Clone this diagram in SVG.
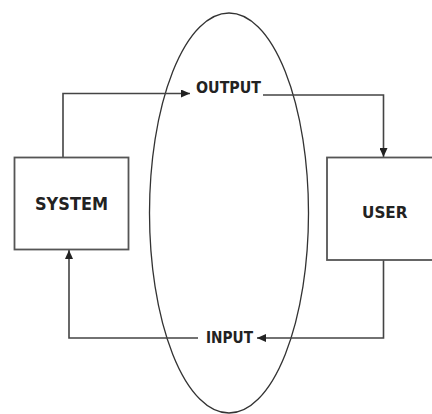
<svg xmlns="http://www.w3.org/2000/svg" width="432" height="414" viewBox="0 0 432 414">
  <style>
    .box { fill: #ffffff; stroke: #555555; stroke-width: 1.8; }
    .ring { fill: none; stroke: #333333; stroke-width: 1.3; }
    .flow { fill: none; stroke: #444444; stroke-width: 1.6; }
    .label { font-family: "DejaVu Sans", Verdana, sans-serif; font-weight: bold; fill: #222222; }
  </style>
  <defs>
    <marker id="arrow" markerUnits="userSpaceOnUse" markerWidth="10" markerHeight="8" refX="9" refY="4" orient="auto">
      <path d="M0,0 L9,4 L0,8 Z" fill="#222222"/>
    </marker>
  </defs>

  <rect width="432" height="414" fill="#ffffff"/>

  <!-- boundary between system and user -->
  <ellipse class="ring" cx="229" cy="213" rx="79.5" ry="200"/>

  <!-- connectors -->
  <g id="connectors">
    <polyline class="flow" points="63,157 63,93.5 190,93.5" marker-end="url(#arrow)"/>
    <polyline class="flow" points="263,95 383.5,95 383.5,157" marker-end="url(#arrow)"/>
    <polyline class="flow" points="383.5,260 383.5,338 257,338" marker-end="url(#arrow)"/>
    <polyline class="flow" points="198,338 69,338 69,250" marker-end="url(#arrow)"/>
  </g>

  <g id="system">
    <rect class="box" x="14.5" y="157.5" width="114" height="92"/>
    <text class="label" x="35" y="210" font-size="17" textLength="73" lengthAdjust="spacingAndGlyphs">SYSTEM</text>
  </g>

  <g id="user">
    <rect class="box" x="327" y="157.5" width="110" height="102.5"/>
    <text class="label" x="362" y="218.3" font-size="16" textLength="45.5" lengthAdjust="spacingAndGlyphs">USER</text>
  </g>

  <g id="output">
    <text class="label" x="196" y="92.7" font-size="16.5" textLength="65" lengthAdjust="spacingAndGlyphs">OUTPUT</text>
  </g>

  <g id="input">
    <text class="label" x="206" y="343" font-size="15.5" textLength="47" lengthAdjust="spacingAndGlyphs">INPUT</text>
  </g>
</svg>
